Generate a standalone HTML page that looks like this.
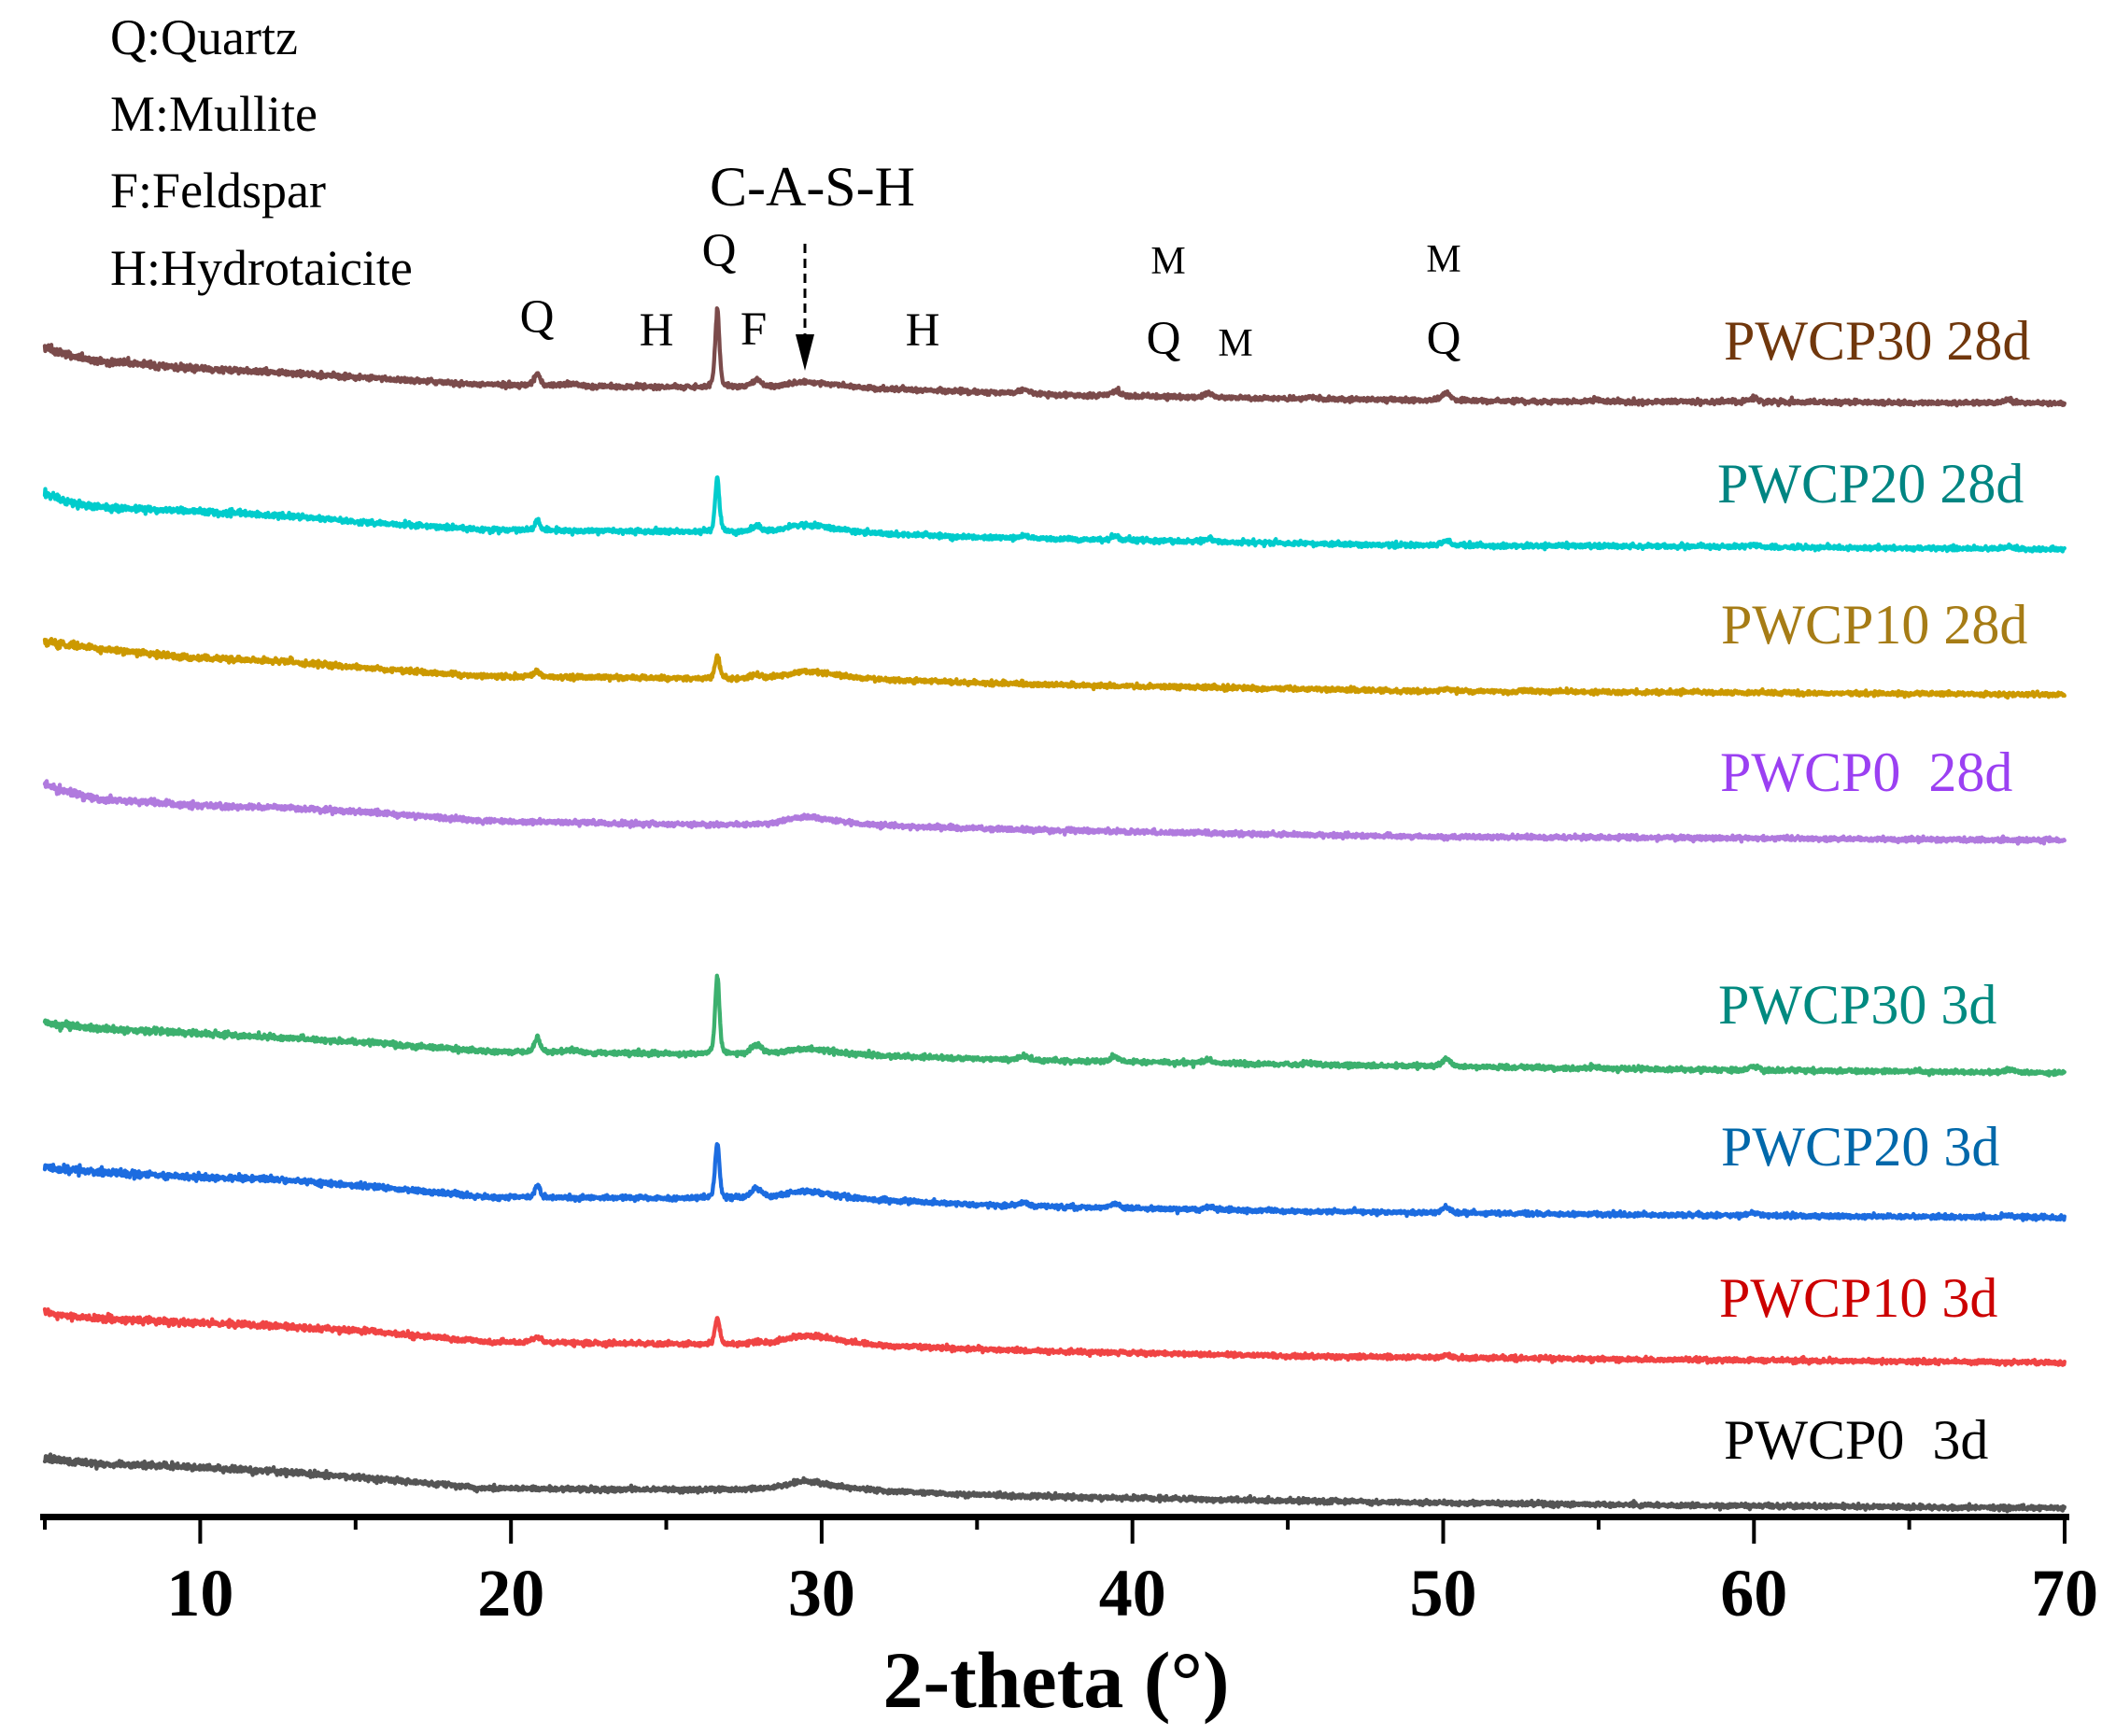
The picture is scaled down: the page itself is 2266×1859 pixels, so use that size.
<!DOCTYPE html>
<html>
<head>
<meta charset="utf-8">
<style>
html,body{margin:0;padding:0;background:#ffffff;}
svg{display:block;}
text{font-family:"Liberation Serif","Times New Roman",serif;}
</style>
</head>
<body>
<svg id="chart" width="2266" height="1859" viewBox="0 0 2266 1859" xmlns="http://www.w3.org/2000/svg">
<rect x="0" y="0" width="2266" height="1859" fill="#ffffff"/>

<!-- legend text top-left -->
<g font-size="54" fill="#000">
<text x="118" y="58">Q:Quartz</text>
<text x="118" y="140">M:Mullite</text>
<text x="118" y="222">F:Feldspar</text>
<text x="118" y="305">H:Hydrotaicite</text>
</g>

<!-- peak annotations -->
<g fill="#000" text-anchor="middle">
<text x="870" y="220" font-size="60">C-A-S-H</text>
<text x="575" y="356" font-size="51">Q</text>
<text x="703" y="370" font-size="51">H</text>
<text x="770" y="285" font-size="51">Q</text>
<text x="807" y="369" font-size="51">F</text>
<text x="988" y="370" font-size="51">H</text>
<text x="1251" y="293" font-size="42">M</text>
<text x="1246" y="379" font-size="51">Q</text>
<text x="1323" y="381" font-size="42">M</text>
<text x="1546" y="291" font-size="42">M</text>
<text x="1546" y="379" font-size="51">Q</text>
</g>

<!-- dashed arrow -->
<line x1="862" y1="261" x2="862" y2="360" stroke="#000" stroke-width="3" stroke-dasharray="10 6"/>
<polygon points="852,358 872,358 862,397" fill="#000"/>

<!-- traces -->
<g id="traces" fill="none" stroke-width="4.3" stroke-linejoin="round" stroke-linecap="round"></g>

<!-- series labels -->
<g font-size="60">
<text x="1846" y="385" fill="#70370c">PWCP30 28d</text>
<text x="1839" y="538" fill="#008582">PWCP20 28d</text>
<text x="1843" y="689" fill="#a67c16">PWCP10 28d</text>
<text x="1842" y="847" fill="#9b40f2" xml:space="preserve">PWCP0  28d</text>
<text x="1840" y="1096" fill="#008a80">PWCP30 3d</text>
<text x="1843" y="1248" fill="#0068aa">PWCP20 3d</text>
<text x="1841" y="1410" fill="#cc0000">PWCP10 3d</text>
<text x="1846" y="1562" fill="#000000" xml:space="preserve">PWCP0  3d</text>
</g>

<!-- x axis -->
<rect x="43" y="1621" width="2173" height="7" fill="#000"/>
<g fill="#000">
<rect x="46" y="1626" width="4" height="12"/>
<rect x="212.4" y="1626" width="4" height="27"/>
<rect x="378.8" y="1626" width="4" height="12"/>
<rect x="545.2" y="1626" width="4" height="27"/>
<rect x="711.5" y="1626" width="4" height="12"/>
<rect x="877.9" y="1626" width="4" height="27"/>
<rect x="1044.3" y="1626" width="4" height="12"/>
<rect x="1210.7" y="1626" width="4" height="27"/>
<rect x="1377.1" y="1626" width="4" height="12"/>
<rect x="1543.5" y="1626" width="4" height="27"/>
<rect x="1709.9" y="1626" width="4" height="12"/>
<rect x="1876.3" y="1626" width="4" height="27"/>
<rect x="2042.6" y="1626" width="4" height="12"/>
<rect x="2209" y="1626" width="4" height="27"/>
</g>
<g font-size="72" font-weight="bold" text-anchor="middle" fill="#000">
<text x="214.4" y="1730">10</text>
<text x="547.2" y="1730">20</text>
<text x="879.9" y="1730">30</text>
<text x="1212.7" y="1730">40</text>
<text x="1545.5" y="1730">50</text>
<text x="1878.3" y="1730">60</text>
<text x="2211" y="1730">70</text>
</g>
<text x="1131" y="1828" font-size="86" font-weight="bold" text-anchor="middle" fill="#000">2-theta (°)</text>
</svg>

<script>
(function(){
var NS="http://www.w3.org/2000/svg";
function X(t){return 48+(t-5)*33.277;}
var seed=2463534242;
function rnd(){seed^=seed<<13;seed>>>=0;seed^=seed>>>17;seed^=seed<<5;seed>>>=0;return (seed%1000003)/1000003;}
function gn(){var u=rnd()+1e-7,v=rnd();return Math.sqrt(-2*Math.log(u))*Math.cos(6.2831853*v);}
function lin(p,t){
  if(t<=p[0][0])return p[0][1];
  for(var i=1;i<p.length;i++){
    if(t<=p[i][0]){var a=p[i-1],b=p[i];return a[1]+(b[1]-a[1])*(t-a[0])/(b[0]-a[0]);}
  }
  return p[p.length-1][1];
}
function pv(t,c,w){var d=(t-c)/w;return 0.65*Math.exp(-2.7726*d*d)+0.35/(1+4*d*d);}
function hump(t){
  var c=29.4,s=(t<c)?0.55:1.0,d=(t-c)/s;
  var e=(t-31)/2.5;
  return 0.75*Math.exp(-0.5*d*d)+0.25*Math.exp(-0.5*e*e);
}
var S=[
 {c:"#7b4b4b",h:8,
  b:[[5,372],[5.5,378],[6.56,386],[9.57,394],[12.57,399],[15.58,405],[18.58,411],[22,413],[26,415],[30,417],[34.8,420],[38.1,423],[45,427],[53.7,430],[57,430],[70,432]],
  p:[[20.85,13,0.2],[21.95,2,0.4],[26.64,83,0.16],[27.9,8,0.4],[36.5,4,0.35],[39.45,5,0.3],[42.45,5,0.3],[45.8,2,0.4],[50.1,8,0.3],[54.9,2,0.4],[60,4,0.35],[68.2,3,0.4]]},
 {c:"#00cccc",h:10,
  b:[[5,529],[5.5,535],[6.56,543],[9.57,547],[12.57,552],[15.58,560],[18.58,566],[19.2,567],[24,569],[28,571],[33.6,575],[49.2,584],[57,585],[70,588]],
  p:[[20.85,10,0.2],[26.64,58,0.16],[27.9,6,0.4],[36.5,3,0.35],[39.45,4,0.3],[42.45,3,0.3],[50.1,5,0.3],[60,3,0.35],[68.2,2,0.4]]},
 {c:"#cc9900",h:10,
  b:[[5,687],[5.5,690],[6.56,694],[9.57,704],[12.57,708],[15.58,716],[18.58,723],[19.2,724],[24,726],[28,728],[33.6,731],[49.2,740],[57,741],[70,744]],
  p:[[20.85,6,0.2],[26.64,25,0.18],[27.9,4,0.4],[50.1,3,0.3]]},
 {c:"#b07ade",h:10,
  b:[[5,840],[5.5,846],[6.56,855],[9.57,862],[12.57,865],[15.58,870],[19.2,879],[24,882],[28,884],[33.6,887],[49.2,896],[57,897],[70,900]],
  p:[]},
 {c:"#3cb06e",h:8,
  b:[[5,1095],[5.5,1098],[6.56,1101],[9.57,1106],[12.57,1111],[15.58,1117],[19.2,1126],[24,1128],[28,1130],[34.2,1134],[45,1140],[57,1145],[70,1149]],
  p:[[20.85,16,0.2],[21.95,3,0.4],[26.64,84,0.16],[27.9,10,0.4],[36.5,4,0.35],[39.45,5,0.3],[42.45,4,0.3],[45.8,2,0.4],[50.1,8,0.3],[54.9,2,0.4],[60,4,0.35],[68.2,3,0.4]]},
 {c:"#1c6ce0",h:10,
  b:[[5,1249],[5.5,1252],[6.56,1255],[9.57,1260],[12.57,1263],[15.58,1271],[19.2,1282],[24,1283],[28,1284],[34.2,1290],[45,1297],[57,1301],[70,1304]],
  p:[[20.85,13,0.2],[26.64,59,0.16],[27.9,10,0.4],[36.5,3,0.35],[39.45,5,0.3],[42.45,3,0.3],[50.1,6,0.3],[60,3,0.35],[68.2,2,0.4]]},
 {c:"#f04444",h:12,
  b:[[5,1404],[5.5,1408],[6.56,1412],[9.57,1416],[12.57,1420],[15.58,1426],[19.2,1437],[24,1439],[28,1441],[34.2,1445],[45,1452],[57,1456],[70,1459]],
  p:[[20.85,5,0.35],[26.64,28,0.18],[27.9,3,0.4],[50.1,3,0.3]]},
 {c:"#555555",h:11,
  b:[[5,1561],[5.5,1564],[6.56,1567],[9.57,1571],[12.57,1576],[15.58,1583],[19.2,1594],[24,1595],[28,1596],[34.2,1601],[45,1607],[57,1612],[70,1615]],
  p:[]}
];
var g=document.getElementById("traces");
var step=0.015,n=Math.round(65/step);
for(var k=0;k<S.length;k++){
  var s=S[k],d=[];
  for(var i=0;i<=n;i++){
    var t=5+i*step;
    var y=lin(s.b,t);
    for(var j=0;j<s.p.length;j++){var q=s.p[j];y-=q[1]*pv(t,q[0],q[2]);}
    y-=s.h*hump(t);
    var sig=1.2+0.8*Math.exp(-(t-5)/8);
    y+=gn()*sig;
    d.push((i?"L":"M")+X(t).toFixed(1)+" "+y.toFixed(1));
  }
  var p=document.createElementNS(NS,"path");
  p.setAttribute("d",d.join(""));
  p.setAttribute("stroke",s.c);
  g.appendChild(p);
}
})();
</script>
</body>
</html>
